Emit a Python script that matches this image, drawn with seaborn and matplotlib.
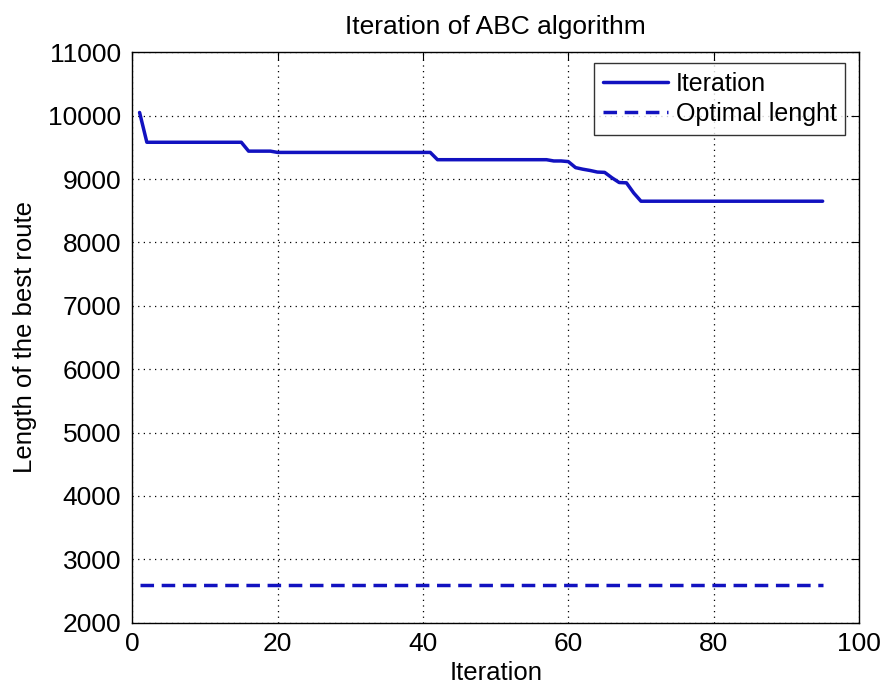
import numpy as np
import pandas as pd
import matplotlib
matplotlib.use("Agg")
import matplotlib.pyplot as plt
import seaborn as sns

# best route length per iteration
iterations = list(range(1, 96))
best_length = [
    10050, 9580, 9580, 9580, 9580, 9580, 9580, 9580, 9580, 9580,
    9580, 9580, 9580, 9580, 9580, 9440, 9440, 9440, 9440, 9420,
    9420, 9420, 9420, 9420, 9420, 9420, 9420, 9420, 9420, 9420,
    9420, 9420, 9420, 9420, 9420, 9420, 9420, 9420, 9420, 9420,
    9420, 9305, 9305, 9305, 9305, 9305, 9305, 9305, 9305, 9305,
    9305, 9305, 9305, 9305, 9305, 9305, 9305, 9285, 9285, 9275,
    9180, 9155, 9135, 9110, 9105, 9020, 8945, 8940, 8780, 8650,
    8650, 8650, 8650, 8650, 8650, 8650, 8650, 8650, 8650, 8650,
    8650, 8650, 8650, 8650, 8650, 8650, 8650, 8650, 8650, 8650,
    8650, 8650, 8650, 8650, 8650,
]
optimal_length = 2600

x_ticks = [0, 20, 40, 60, 80, 100]
y_ticks = [2000, 3000, 4000, 5000, 6000, 7000, 8000, 9000, 10000, 11000]

df = pd.DataFrame({
    "Iteration": iterations,
    "best": best_length,
    "optimal": [optimal_length] * len(iterations),
})

sns.set_style("white")
plt.rcParams["font.family"] = ["Liberation Sans", "DejaVu Sans"]
plt.rcParams["text.color"] = "k"
plt.rcParams["axes.labelcolor"] = "k"
plt.rcParams["xtick.color"] = "k"
plt.rcParams["ytick.color"] = "k"

fig = plt.figure(figsize=(8.85, 6.86), dpi=100)
ax = fig.add_axes([0.1495, 0.0923, 0.8211, 0.8315])

blue = "#1212c0"
sns.lineplot(data=df, x="Iteration", y="best", ax=ax, color=blue,
             linewidth=2.5, label="Iteration")
sns.lineplot(data=df, x="Iteration", y="optimal", ax=ax, color=blue,
             linewidth=2.5, linestyle=(0, (3.9, 2.2)), label="Optimal lenght")

ax.set_xlim(0, 100)
ax.set_ylim(2000, 11000)
ax.set_xticks(x_ticks)
ax.set_yticks(y_ticks)
ax.tick_params(direction="in", top=True, right=True, length=6,
               labelsize=19, pad=7)
ax.tick_params(axis="y", pad=8)
ax.grid(True, linestyle=(0, (1, 3.5)), color="k", linewidth=0.9)
for s in ax.spines.values():
    s.set_color("k")
    s.set_linewidth(1.0)

ax.set_title("Iteration of ABC algorithm", fontsize=19, pad=13)
ax.set_xlabel("Iteration", fontsize=18.5, labelpad=3)
ax.set_ylabel("Length of the best route", fontsize=18.5, labelpad=8)

leg = ax.legend(loc="upper right", fontsize=18, frameon=True, fancybox=False,
                handlelength=2.6, handletextpad=0.3, borderpad=0.35,
                labelspacing=0.25, bbox_to_anchor=(0.988, 0.99),
                borderaxespad=0.2)
leg.get_frame().set_edgecolor("k")
leg.get_frame().set_linewidth(1.0)

fig.savefig("out.png", dpi=100)
